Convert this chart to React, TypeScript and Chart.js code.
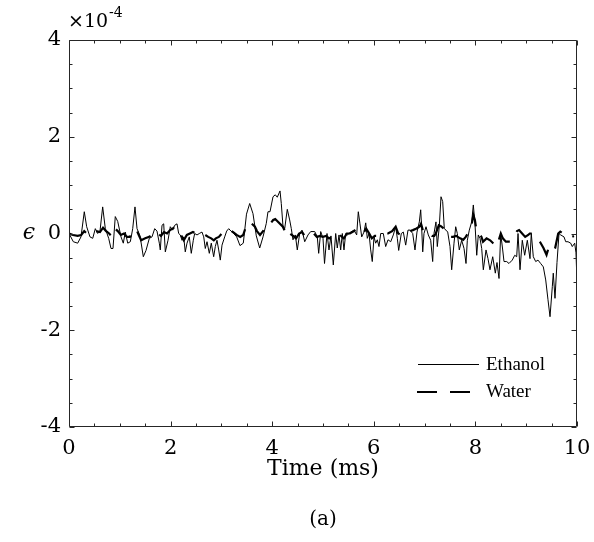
import React, { useEffect, useRef } from "react";
import { Chart, registerables } from "chart.js";
Chart.register(...registerables);

// Time in ms, strain in units of 1e-4
const ethanolTime = [
  0, 0.085, 0.171, 0.236, 0.301, 0.348, 0.413, 0.467, 0.518, 0.565, 0.61, 0.663, 0.715, 0.781, 0.827, 0.866,
  0.911, 0.959, 1.024, 1.069, 1.108, 1.156, 1.207, 1.254, 1.299, 1.339, 1.398, 1.463, 1.516, 1.581, 1.634,
  1.687, 1.732, 1.778, 1.797, 1.831, 1.864, 1.896, 1.949, 1.994, 2.041, 2.081, 2.126, 2.159, 2.191, 2.224,
  2.258, 2.289, 2.323, 2.368, 2.407, 2.447, 2.474, 2.52, 2.565, 2.618, 2.652, 2.683, 2.717, 2.762, 2.801,
  2.848, 2.88, 2.913, 2.947, 2.978, 3.012, 3.065, 3.104, 3.144, 3.189, 3.242, 3.301, 3.366, 3.431, 3.494,
  3.557, 3.622, 3.687, 3.754, 3.819, 3.884, 3.917, 3.957, 4.016, 4.061, 4.1, 4.154, 4.179, 4.213, 4.246,
  4.297, 4.344, 4.376, 4.409, 4.455, 4.494, 4.541, 4.587, 4.64, 4.705, 4.758, 4.837, 4.888, 4.915, 4.955,
  5.0, 5.03, 5.079, 5.118, 5.157, 5.203, 5.25, 5.281, 5.315, 5.348, 5.38, 5.413, 5.447, 5.478, 5.545, 5.61,
  5.663, 5.695, 5.728, 5.762, 5.807, 5.841, 5.872, 5.906, 5.939, 5.97, 6.004, 6.037, 6.069, 6.102, 6.136,
  6.187, 6.234, 6.28, 6.333, 6.384, 6.431, 6.463, 6.49, 6.541, 6.581, 6.628, 6.673, 6.713, 6.766, 6.811,
  6.85, 6.896, 6.923, 6.943, 6.963, 6.988, 7.028, 7.073, 7.12, 7.159, 7.185, 7.224, 7.25, 7.289, 7.323,
  7.356, 7.388, 7.421, 7.455, 7.5, 7.533, 7.579, 7.612, 7.644, 7.683, 7.73, 7.776, 7.815, 7.841, 7.88,
  7.927, 7.959, 7.992, 8.026, 8.057, 8.091, 8.124, 8.156, 8.209, 8.248, 8.287, 8.341, 8.392, 8.425, 8.465,
  8.498, 8.533, 8.563, 8.616, 8.661, 8.726, 8.774, 8.813, 8.839, 8.878, 8.923, 8.97, 9.022, 9.075, 9.1,
  9.14, 9.187, 9.232, 9.285, 9.337, 9.384, 9.429, 9.469, 9.514, 9.533, 9.567, 9.606, 9.646, 9.679, 9.744,
  9.778, 9.823, 9.876, 9.907, 9.955, 9.98, 10.0,
];
const ethanolEps = [
  0.0, -0.17, -0.2, -0.07, 0.45, 0.14, -0.07, -0.1, 0.1, 0.0, 0.05, 0.55, 0.1, -0.1, -0.31, -0.31,
  0.35, 0.25, -0.07, -0.2, 0.03, -0.2, -0.17, 0.1, 0.55, 0.1, -0.05, -0.48, -0.35, -0.1, -0.07,
  0.1, 0.05, -0.2, -0.34, 0.17, 0.2, -0.38, -0.14, 0.14, 0.07, 0.17, 0.2, 0.0, -0.03, -0.14,
  -0.07, -0.38, -0.2, -0.07, -0.41, -0.14, 0.0, -0.03, 0.0, 0.03, -0.07, -0.31, -0.17, -0.41, -0.2,
  -0.48, -0.27, -0.14, -0.34, -0.55, -0.24, -0.07, 0.05, 0.1, 0.05, 0.0, -0.07, -0.25, -0.2, 0.4,
  0.62, 0.41, -0.05, -0.3, -0.07, 0.21, 0.45, 0.45, 0.76, 0.8, 0.75, 0.88, 0.62, 0.14, 0.1,
  0.5, 0.28, 0.1, -0.13, -0.03, -0.34, 0.0, 0.07, -0.17, -0.03, 0.04, 0.04, -0.07, -0.41, 0.04,
  -0.1, -0.62, 0.0, -0.34, -0.05, -0.65, 0.0, -0.3, -0.03, -0.34, 0.0, -0.34, 0.0, -0.03, 0.03, 0.07,
  -0.03, 0.45, 0.2, -0.07, 0.03, 0.22, -0.1, 0.0, -0.34, -0.58, -0.07, -0.2, -0.13, -0.27, 0.0,
  0.0, -0.27, -0.13, -0.17, -0.03, 0.14, -0.1, -0.35, 0.0, 0.03, -0.24, 0.07, 0.07, 0.0, -0.34,
  0.03, 0.24, 0.49, 0.1, -0.38, 0.0, 0.14, -0.03, -0.14, -0.58, 0.0, 0.24, -0.27, 0.14, 0.76,
  0.66, 0.1, 0.07, 0.03, -0.27, -0.75, -0.2, 0.14, 0.0, -0.34, -0.14, -0.31, -0.62, -0.14, 0.07,
  0.24, 0.59, 0.2, -0.45, -0.03, -0.1, -0.31, -0.75, -0.34, -0.52, -0.75, -0.48, -0.82, -0.6, -0.93,
  0.0, -0.3, -0.58, -0.58, -0.62, -0.55, -0.45, -0.48, 0.0, -0.75, -0.14, -0.45, -0.14, -0.52, 0.0,
  -0.48, -0.58, -0.55, -0.62, -0.69, -0.96, -1.37, -1.72, -1.1, -0.82, -1.34, -0.6, 0.0, -0.03, -0.07,
  -0.17, -0.17, -0.2, -0.27, -0.2, -0.4, -1.0,
];

const waterTime = [
  0, 0.08, 0.17, 0.24, 0.3, 0.35, 0.41, 0.47, 0.53, 0.61, 0.67, 0.73, 0.79, 0.85, 0.91, 0.96, 1.02, 1.08,
  1.14, 1.2, 1.26, 1.32, 1.38, 1.42, 1.5, 1.58, 1.63, 1.69, 1.75, 1.81, 1.87, 1.93, 1.99, 2.04, 2.09, 2.14,
  2.19, 2.26, 2.32, 2.38, 2.44, 2.5, 2.56, 2.62, 2.68, 2.74, 2.8, 2.85, 2.89, 2.95, 3.01, 3.07, 3.16, 3.23,
  3.3, 3.37, 3.43, 3.5, 3.56, 3.6, 3.66, 3.7, 3.76, 3.82, 3.88, 3.96, 4.02, 4.06, 4.21, 4.25, 4.3, 4.35,
  4.41, 4.47, 4.53, 4.59, 4.65, 4.7, 4.76, 4.82, 4.88, 4.94, 5.0, 5.06, 5.12, 5.18, 5.24, 5.3, 5.35, 5.41,
  5.47, 5.53, 5.61, 5.67, 5.73, 5.79, 5.85, 5.91, 5.96, 6.02, 6.08, 6.14, 6.2, 6.28, 6.36, 6.43, 6.48, 6.54,
  6.59, 6.65, 6.71, 6.77, 6.83, 6.9, 6.93, 6.97, 7.03, 7.09, 7.15, 7.19, 7.22, 7.28, 7.32, 7.38, 7.44, 7.5,
  7.56, 7.62, 7.7, 7.76, 7.81, 7.87, 7.93, 7.96, 7.99, 8.03, 8.07, 8.12, 8.15, 8.22, 8.29, 8.35, 8.42, 8.5,
  8.54, 8.6, 8.68, 8.76, 8.82, 8.86, 8.92, 8.98, 9.04, 9.07, 9.13, 9.19, 9.27, 9.34, 9.4, 9.44, 9.47, 9.53,
  9.57, 9.63, 9.67, 9.76, 9.82, 9.9, 9.94,
];
const waterEps = [
  0.0, -0.03, -0.05, -0.03, 0.05, 0.0, -0.03, 0.0, 0.05, 0.03, 0.12, 0.05, 0.0, -0.07, 0.1, 0.05, -0.03, 0.0,
  -0.07, -0.07, 0.05, 0.1, -0.05, -0.14, -0.1, -0.07, -0.03, 0.05, 0.0, -0.05, 0.03, 0.0, 0.07, 0.1, 0.14, 0.05,
  0.0, -0.14, -0.03, 0.0, 0.03, 0.0, 0.03, 0.0, -0.03, -0.07, -0.1, -0.14, -0.1, -0.07, 0.0, 0.05, 0.08, 0.03,
  -0.03, -0.07, -0.03, 0.2, 0.24, 0.2, 0.14, 0.05, -0.03, 0.05, 0.18, 0.2, 0.28, 0.3, 0.14, 0.05, 0.12, 0.0,
  -0.05, -0.1, 0.0, 0.03, -0.07, -0.03, 0.0, 0.0, -0.07, -0.05, -0.07, -0.05, -0.1, -0.07, -0.03, -0.1, -0.05, -0.1,
  0.0, 0.0, 0.05, 0.1, 0.05, 0.0, 0.1, 0.0, -0.1, -0.05, -0.05, 0.0, 0.0, 0.0, 0.05, 0.14, 0.0, -0.03,
  0.0, 0.05, 0.05, 0.07, 0.1, 0.14, 0.2, 0.05, 0.07, 0.0, -0.05, -0.05, 0.0, 0.17, 0.15, 0.1, 0.05, -0.07,
  -0.07, -0.05, -0.1, -0.13, -0.07, 0.03, 0.21, 0.38, 0.28, 0.0, 0.0, -0.07, -0.17, -0.1, -0.14, -0.2, -0.27, 0.0,
  -0.1, -0.17, -0.17, -0.05, 0.05, 0.07, 0.0, -0.07, -0.03, 0.0, 0.0, -0.05, -0.17, -0.3, -0.44, -0.3, -0.3, -0.38,
  -0.3, 0.0, 0.04, -0.03, -0.07, -0.07, -0.05,
];

const seriesNames = ["Ethanol", "Water"];
const xMin = 0, xMax = 10, xStep = 2;
const yMin = -4, yMax = 4, yStep = 2;
const minorStep = 0.5;
const xTitle = "Time (ms)";
const yTitle = "\u03F5";
const exponentBase = "\u00D710";
const exponent = "-4";
const caption = "(a)";

const TIMES = '"Liberation Serif", serif';
const CM = '"DejaVu Serif", serif';

export default function App() {
  const ref = useRef<HTMLCanvasElement>(null);
  useEffect(() => {
    document.body.style.margin = "0";
    const canvas = ref.current;
    if (!canvas) return;
    const pts = (t: number[], v: number[]) => t.map((x, i) => ({ x, y: v[i] }));

    const decor = {
      id: "decor",
      afterDraw(chart: any) {
        const { ctx, chartArea: a, scales } = chart;
        const xs = scales.x, ys = scales.y;
        ctx.save();
        ctx.strokeStyle = "#262626";
        ctx.lineWidth = 1;
        const L = Math.round(a.left) + 0.5, R = Math.round(a.right) - 0.5;
        const T = Math.round(a.top) + 0.5, B = Math.round(a.bottom) - 0.5;
        ctx.beginPath();
        ctx.rect(L, T, R - L, B - T);
        ctx.stroke();
        ctx.beginPath();
        for (let v = xMin; v <= xMax + 1e-9; v += minorStep) {
          const px = Math.round(xs.getPixelForValue(v)) + 0.5;
          const major = Math.abs(v / xStep - Math.round(v / xStep)) < 1e-9;
          const len = major ? 5 : 3;
          ctx.moveTo(px, B); ctx.lineTo(px, B - len);
          ctx.moveTo(px, T); ctx.lineTo(px, T + len);
        }
        for (let v = yMin; v <= yMax + 1e-9; v += minorStep) {
          const py = Math.round(ys.getPixelForValue(v)) + 0.5;
          const major = Math.abs(v / yStep - Math.round(v / yStep)) < 1e-9;
          const len = major ? 5 : 3;
          ctx.moveTo(L, py); ctx.lineTo(L + len, py);
          ctx.moveTo(R, py); ctx.lineTo(R - len, py);
        }
        ctx.stroke();

        ctx.fillStyle = "#000";
        ctx.textBaseline = "alphabetic";
        ctx.textAlign = "left";
        ctx.font = `19px ${CM}`;
        ctx.fillText(exponentBase, a.left - 1, 27);
        const w = ctx.measureText(exponentBase).width;
        ctx.font = `14px ${CM}`;
        ctx.fillText(exponent, a.left + w, 17);

        ctx.font = `italic 22px ${CM}`;
        ctx.textAlign = "center";
        ctx.textBaseline = "middle";
        ctx.fillText(yTitle, 29, (a.top + a.bottom) / 2);

        const cx = (a.left + a.right) / 2;
        ctx.font = `22px ${CM}`;
        ctx.fillText(xTitle, cx, 469);
        ctx.font = `20px ${CM}`;
        ctx.fillText(caption, cx, 520);

        ctx.textAlign = "left";
        ctx.font = `19px ${TIMES}`;
        ctx.strokeStyle = "#000";
        ctx.lineWidth = 1;
        ctx.beginPath();
        ctx.moveTo(418, 364.5); ctx.lineTo(479, 364.5);
        ctx.stroke();
        ctx.fillText(seriesNames[0], 486, 365);
        ctx.lineWidth = 2.2;
        ctx.setLineDash([20, 13]);
        ctx.beginPath();
        ctx.moveTo(417, 392); ctx.lineTo(471, 392);
        ctx.stroke();
        ctx.setLineDash([]);
        ctx.fillText(seriesNames[1], 486, 392);
        ctx.restore();
      },
    };

    const chart = new Chart(canvas, {
      type: "line",
      data: {
        datasets: [
          {
            label: seriesNames[0],
            data: pts(ethanolTime, ethanolEps),
            borderColor: "#000",
            borderWidth: 1,
            pointRadius: 0,
            tension: 0,
            fill: false,
          },
          {
            label: seriesNames[1],
            data: pts(waterTime, waterEps),
            borderColor: "#000",
            borderWidth: 2.2,
            borderDash: [20, 12],
            pointRadius: 0,
            tension: 0,
            fill: false,
          },
        ],
      },
      options: {
        animation: false,
        responsive: false,
        maintainAspectRatio: false,
        layout: { padding: { left: 0, right: 17, top: 40, bottom: 0 } },
        plugins: { legend: { display: false }, tooltip: { enabled: false }, title: { display: false } },
        scales: {
          x: {
            type: "linear",
            min: xMin,
            max: xMax,
            grid: { display: false, drawTicks: false },
            border: { display: false },
            ticks: { stepSize: xStep, color: "#000", font: { family: CM, size: 21 }, padding: 9, maxRotation: 0 },
            afterFit: (s: any) => {
              s.height = 115;
              s.paddingLeft = 0;
              s.paddingRight = 0;
            },
          },
          y: {
            type: "linear",
            min: yMin,
            max: yMax,
            grid: { display: false, drawTicks: false },
            border: { display: false },
            ticks: { stepSize: yStep, color: "#000", font: { family: CM, size: 21 }, padding: 8 },
            afterFit: (s: any) => {
              s.width = 69;
              s.paddingTop = 0;
              s.paddingBottom = 0;
            },
          },
        },
      },
      plugins: [decor],
    });
    return () => chart.destroy();
  }, []);
  return (
    <div style={{ width: 594, height: 542 }}>
      <canvas ref={ref} width={594} height={542} style={{ display: "block" }} />
    </div>
  );
}
